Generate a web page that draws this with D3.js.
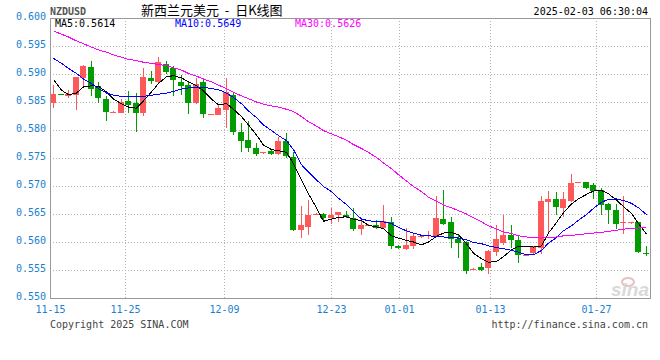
<!DOCTYPE html>
<html>
<head>
<meta charset="utf-8">
<script src="https://cdn.jsdelivr.net/npm/d3@7/dist/d3.min.js"></script>
<style>
  body { margin: 0; background: #fff; }
  text { font-family: "DejaVu Sans Mono", "Liberation Mono", monospace; font-size: 10px; }
</style>
</head>
<body>
<div class="chart"></div>
<script>
// NZDUSD daily candles (one slot per calendar day, 12-01 missing)
var dates = [
  "11-15","11-16","11-17","11-18","11-19","11-20","11-21","11-22","11-23","11-24",
  "11-25","11-26","11-27","11-28","11-29","11-30","12-02","12-03","12-04","12-05",
  "12-06","12-07","12-08","12-09","12-10","12-11","12-12","12-13","12-14","12-15",
  "12-16","12-17","12-18","12-19","12-20","12-21","12-22","12-23","12-24","12-25",
  "12-26","12-27","12-28","12-29","12-30","12-31","01-01","01-02","01-03","01-04",
  "01-05","01-06","01-07","01-08","01-09","01-10","01-11","01-12","01-13","01-14",
  "01-15","01-16","01-17","01-18","01-19","01-20","01-21","01-22","01-23","01-24",
  "01-25","01-26","01-27","01-28","01-29","01-30","01-31","02-01","02-02","02-03"
];

var openP = [
  0.5848,0.5864,0.5861,0.5862,0.5893,0.5912,0.5879,0.5855,0.5832,0.5831,
  0.5852,0.5849,0.5831,0.5892,0.5886,0.5917,0.5911,0.5886,0.5881,0.5848,
  0.5885,0.5827,0.5826,0.5836,0.5863,0.5797,0.5783,0.5767,0.5759,0.5762,
  0.5757,0.5781,0.5752,0.5621,0.5627,0.5649,0.5650,0.5642,0.5648,0.5649,
  0.5642,0.5623,0.5630,0.5631,0.5625,0.5636,0.5593,0.5587,0.5593,0.5609,
  0.5611,0.5609,0.5641,0.5636,0.5606,0.5600,0.5551,0.5555,0.5554,0.5582,
  0.5599,0.5613,0.5604,0.5577,0.5580,0.5589,0.5672,0.5676,0.5661,0.5673,
  0.5706,0.5708,0.5701,0.5692,0.5668,0.5658,0.5634,0.5634,0.5635,0.5581
];
var highP = [
  0.5880,0.5864,0.5871,0.5895,0.5916,0.5924,0.5886,0.5861,0.5834,0.5856,
  0.5870,0.5866,0.5910,0.5906,0.5930,0.5924,0.5915,0.5898,0.5885,0.5892,
  0.5889,0.5829,0.5845,0.5892,0.5867,0.5812,0.5816,0.5777,0.5761,0.5765,
  0.5788,0.5794,0.5760,0.5664,0.5675,0.5651,0.5651,0.5660,0.5654,0.5656,
  0.5661,0.5638,0.5632,0.5639,0.5666,0.5645,0.5594,0.5625,0.5614,0.5611,
  0.5619,0.5683,0.5693,0.5645,0.5612,0.5601,0.5553,0.5562,0.5586,0.5631,
  0.5649,0.5631,0.5613,0.5578,0.5593,0.5683,0.5691,0.5689,0.5689,0.5722,
  0.5707,0.5708,0.5705,0.5697,0.5670,0.5668,0.5683,0.5635,0.5636,0.5592
];
var lowP = [
  0.5839,0.5862,0.5857,0.5835,0.5875,0.5861,0.5848,0.5816,0.5831,0.5830,
  0.5831,0.5796,0.5825,0.5882,0.5883,0.5900,0.5861,0.5863,0.5828,0.5847,
  0.5822,0.5826,0.5826,0.5803,0.5791,0.5760,0.5760,0.5753,0.5758,0.5756,
  0.5756,0.5750,0.5619,0.5607,0.5612,0.5648,0.5637,0.5632,0.5635,0.5643,
  0.5620,0.5612,0.5629,0.5624,0.5624,0.5587,0.5588,0.5585,0.5587,0.5608,
  0.5605,0.5609,0.5631,0.5589,0.5572,0.5542,0.5550,0.5548,0.5542,0.5575,
  0.5595,0.5589,0.5563,0.5577,0.5579,0.5579,0.5615,0.5648,0.5645,0.5672,
  0.5705,0.5695,0.5676,0.5648,0.5633,0.5623,0.5615,0.5633,0.5581,0.5575
];
var closeP = [
  0.5864,0.5862,0.5864,0.5894,0.5914,0.5874,0.5858,0.5832,0.5833,0.5850,
  0.5844,0.5831,0.5894,0.5887,0.5922,0.5904,0.5889,0.5879,0.5848,0.5883,
  0.5828,0.5828,0.5839,0.5868,0.5797,0.5781,0.5767,0.5758,0.5760,0.5757,
  0.5781,0.5753,0.5621,0.5630,0.5648,0.5650,0.5642,0.5648,0.5653,0.5645,
  0.5624,0.5631,0.5631,0.5625,0.5638,0.5593,0.5590,0.5594,0.5610,0.5610,
  0.5613,0.5643,0.5633,0.5606,0.5598,0.5548,0.5552,0.5550,0.5584,0.5605,
  0.5613,0.5604,0.5576,0.5577,0.5592,0.5673,0.5676,0.5662,0.5676,0.5705,
  0.5707,0.5697,0.5691,0.5666,0.5657,0.5633,0.5635,0.5635,0.5582,0.5579
];

var ma5 = [
  0.5890,0.5871,0.5863,0.5866,0.5877,0.5879,0.5878,0.5868,0.5855,0.5847,
  0.5841,0.5839,0.5852,0.5868,0.5883,0.5895,0.5897,0.5893,0.5886,0.5879,
  0.5870,0.5855,0.5845,0.5847,0.5837,0.5824,0.5809,0.5791,0.5773,0.5765,
  0.5763,0.5760,0.5740,0.5711,0.5686,0.5661,0.5637,0.5641,0.5644,0.5645,
  0.5641,0.5638,0.5630,0.5627,0.5624,0.5611,0.5607,0.5603,0.5600,0.5595,
  0.5600,0.5610,0.5616,0.5617,0.5613,0.5597,0.5580,0.5570,0.5564,0.5565,
  0.5574,0.5586,0.5592,0.5592,0.5591,0.5593,0.5616,0.5635,0.5652,0.5668,
  0.5677,0.5685,0.5691,0.5692,0.5686,0.5675,0.5663,0.5651,0.5633,0.5614
];
var ma10 = [
  0.5928,0.5919,0.5910,0.5901,0.5891,0.5883,0.5874,0.5866,0.5862,0.5860,
  0.5859,0.5860,0.5860,0.5862,0.5864,0.5866,0.5869,0.5873,0.5875,0.5876,
  0.5876,0.5874,0.5872,0.5866,0.5858,0.5847,0.5834,0.5822,0.5809,0.5799,
  0.5790,0.5781,0.5765,0.5738,0.5725,0.5711,0.5699,0.5690,0.5678,0.5667,
  0.5654,0.5641,0.5638,0.5636,0.5636,0.5633,0.5626,0.5620,0.5616,0.5612,
  0.5611,0.5610,0.5609,0.5608,0.5607,0.5604,0.5599,0.5597,0.5593,0.5590,
  0.5588,0.5585,0.5582,0.5577,0.5577,0.5585,0.5598,0.5608,0.5620,0.5629,
  0.5639,0.5649,0.5660,0.5671,0.5676,0.5677,0.5674,0.5669,0.5661,0.5649
];
var ma30 = [
  0.5977,0.5971,0.5966,0.5959,0.5954,0.5948,0.5943,0.5939,0.5934,0.5930,
  0.5926,0.5924,0.5921,0.5919,0.5917,0.5915,0.5911,0.5907,0.5901,0.5896,
  0.5891,0.5886,0.5880,0.5874,0.5867,0.5861,0.5856,0.5850,0.5846,0.5843,
  0.5841,0.5837,0.5833,0.5824,0.5815,0.5807,0.5799,0.5793,0.5788,0.5782,
  0.5774,0.5767,0.5760,0.5751,0.5741,0.5731,0.5720,0.5709,0.5699,0.5690,
  0.5680,0.5673,0.5666,0.5661,0.5656,0.5650,0.5643,0.5636,0.5629,0.5623,
  0.5618,0.5615,0.5611,0.5609,0.5608,0.5607,0.5608,0.5609,0.5611,0.5612,
  0.5613,0.5615,0.5616,0.5617,0.5619,0.5621,0.5623,0.5624,0.5625,0.5626
];

var tickDates = ["11-15","11-25","12-09","12-23","01-01","01-13","01-27"];
var yTicks = [0.550,0.555,0.560,0.565,0.570,0.575,0.580,0.585,0.590,0.595,0.600];

var maNames = ["MA5","MA10","MA30"];
var maLast = ["0.5614","0.5649","0.5626"];

var W = 660, H = 360,
  pLeft = 50, pRight = 650, pTop = 18, pBottom = 298,
  upColor = "#ff5858", downColor = "#009c00",
  axisBlue = "#1a7fd0",
  maColors = ["#000000","#0000ff","#ff00ff"];

var svg = d3.select(".chart").append("svg")
  .attr("width", W)
  .attr("height", H);

svg.append("rect").attr("width", W).attr("height", H).attr("fill", "#fff");

// candles sit in bands, the date grid uses a point scale (sina draws them slightly apart)
var x = d3.scaleBand().domain(dates).range([pLeft, pRight]).paddingInner(0).paddingOuter(0);
var xGrid = d3.scalePoint().domain(dates).range([pLeft - 0.5, pRight - 0.5]);
var y = d3.scaleLinear().domain([0.55, 0.60]).range([pBottom, pTop]);

var cx = function(i){ return Math.round(x(dates[i])) + 3; };

// grid
svg.append("g").selectAll("line").data(yTicks.slice(1, -1)).enter().append("line")
  .attr("x1", pLeft).attr("x2", pRight)
  .attr("y1", function(d){ return Math.round(y(d)) + 0.5; })
  .attr("y2", function(d){ return Math.round(y(d)) + 0.5; })
  .attr("stroke", "#b4b4b4")
  .attr("stroke-dasharray", "1,2");

svg.append("g").selectAll("line").data(tickDates.slice(1)).enter().append("line")
  .attr("x1", function(d){ return Math.round(xGrid(d)) + 0.5; })
  .attr("x2", function(d){ return Math.round(xGrid(d)) + 0.5; })
  .attr("y1", pTop).attr("y2", pBottom)
  .attr("stroke", "#b4b4b4")
  .attr("stroke-dasharray", "1,2");

// sina watermark
var wm = svg.append("g");
wm.append("ellipse").attr("cx", 628).attr("cy", 282).attr("rx", 6).attr("ry", 4)
  .attr("fill", "none").attr("stroke", "#e8c0c0").attr("stroke-width", 2);
wm.append("text").attr("x", 649).attr("y", 296).attr("text-anchor", "end")
  .style("font-family", "Liberation Sans, Arial, sans-serif")
  .style("font-size", "19px").style("font-weight", "bold").style("font-style", "italic")
  .attr("fill", "#d9d9d9").text("sina");

// candles
var idx = d3.range(dates.length);
var candles = svg.append("g").selectAll("g").data(idx).enter().append("g")
  .attr("fill", function(i){ return closeP[i] >= openP[i] ? upColor : downColor; })
  .attr("stroke", function(i){ return closeP[i] >= openP[i] ? upColor : downColor; });

candles.append("line")
  .attr("x1", function(i){ return cx(i) + 0.5; })
  .attr("x2", function(i){ return cx(i) + 0.5; })
  .attr("y1", function(i){ return Math.round(y(highP[i])); })
  .attr("y2", function(i){ return Math.round(y(lowP[i])); })
  .attr("stroke-width", 1);

candles.append("rect")
  .attr("stroke", "none")
  .attr("x", function(i){ return cx(i) - 3; })
  .attr("width", 6)
  .attr("y", function(i){ return Math.round(y(Math.max(openP[i], closeP[i]))); })
  .attr("height", function(i){
    return Math.max(1, Math.round(y(Math.min(openP[i], closeP[i]))) - Math.round(y(Math.max(openP[i], closeP[i]))));
  });

// moving averages
[ma5, ma10, ma30].forEach(function(series, k){
  var line = d3.line()
    .x(function(d, i){ return cx(i) + 0.5; })
    .y(function(d){ return y(d); });
  svg.append("path")
    .attr("d", line(series))
    .attr("fill", "none")
    .attr("stroke", maColors[k])
    .attr("stroke-width", 1)
    .attr("shape-rendering", "crispEdges");
});

// frame
svg.append("rect")
  .attr("x", pLeft + 0.5).attr("y", pTop + 0.5)
  .attr("width", pRight - pLeft).attr("height", pBottom - pTop)
  .attr("fill", "none").attr("stroke", "#999");

// y labels
svg.append("g").selectAll("text").data(yTicks).enter().append("text")
  .attr("x", 46)
  .attr("y", function(d){ return y(d) + 2; })
  .attr("text-anchor", "end")
  .attr("fill", axisBlue)
  .text(function(d){ return d3.format(".3f")(d); });

// x labels
svg.append("g").selectAll("text").data(tickDates).enter().append("text")
  .attr("x", function(d){ return Math.round(xGrid(d)) + 0.5; })
  .attr("y", 313)
  .attr("text-anchor", "middle")
  .attr("fill", axisBlue)
  .text(function(d){ return d; });

// legend
var legX = [55, 175, 295];
maNames.forEach(function(n, k){
  svg.append("text").attr("x", legX[k]).attr("y", 27)
    .attr("fill", maColors[k]).text(n + ":" + maLast[k]);
});

// header and footer
svg.append("text").attr("x", 50).attr("y", 15)
  .attr("fill", "#555").style("font-weight", "bold").text("NZDUSD");
svg.append("text").attr("x", 141).attr("y", 15)
  .style("font-family", "Noto Sans CJK SC, sans-serif").style("font-size", "13px")
  .style("white-space", "pre")
  .attr("fill", "#000").text("新西兰元美元  -  日K线图");
svg.append("text").attr("x", 648).attr("y", 15).attr("text-anchor", "end")
  .attr("fill", "#000").text("2025-02-03 06:30:04");
svg.append("text").attr("x", 50).attr("y", 328)
  .attr("fill", "#444").text("Copyright 2025 SINA.COM");
svg.append("text").attr("x", 648).attr("y", 328).attr("text-anchor", "end")
  .attr("fill", "#444").text("http://finance.sina.com.cn");
</script>
</body>
</html>
